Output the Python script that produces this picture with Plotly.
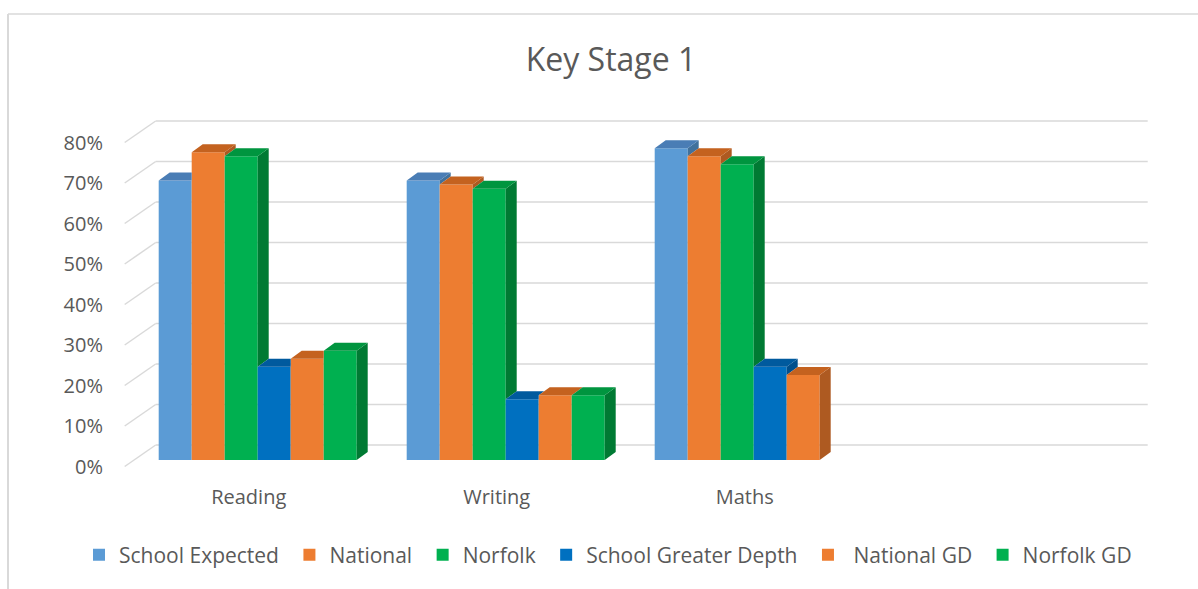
import plotly.graph_objects as go

# ---------------- data ----------------
categories = ["Reading", "Writing", "Maths", ""]
series_names = ["School Expected", "National", "Norfolk",
                "School Greater Depth", "\u00a0National GD", "Norfolk GD"]
school_expected = [69, 69, 77, None]
national = [76, 68, 75, None]
norfolk = [75, 67, 73, None]
school_greater_depth = [23, 15, 23, None]
national_gd = [25, 16, 21, None]
norfolk_gd = [27, 16, None, None]
y_tick_values = [0, 10, 20, 30, 40, 50, 60, 70, 80]
y_tick_labels = ["0%", "10%", "20%", "30%", "40%", "50%", "60%", "70%", "80%"]

series_values = [school_expected, national, norfolk,
                 school_greater_depth, national_gd, norfolk_gd]

# ---------------- styles ----------------
front_colors = ["#5B9BD5", "#ED7D31", "#00B050", "#0070C0", "#ED7D31", "#00B050"]
top_colors = ["#4A7DB5", "#C4621F", "#00953F", "#005A9E", "#C4621F", "#00953F"]
side_colors = ["#41719C", "#AE5A21", "#007A33", "#004F8C", "#AE5A21", "#007A33"]
text_color = "#595959"
grid_color = "#D9D9D9"
font_family = "Open Sans"
legend_pad = "\u00a0"   # small extra spacing after each legend entry

# ---------------- geometry (pixels -> data units) ----------------
W, H = 1198, 589
X0, SX = 133.7, 248.0       # px of x=0 on bar-front plane, px per category
Y0, SY = 460.0, 4.05        # px of 0% on bar-front plane, px per percent
L, R, T, B = 118, 1150, 112, 470   # plot area in px

x_range = [(L - X0) / SX, (R - X0) / SX]
y_range = [(Y0 - B) / SY, (Y0 - T) / SY]

bar_w = 33.0 / SX
bar_dx, bar_dy = 11.0 / SX, 8.0 / SY        # bar extrusion
front_dx, front_dy = -9.0 / SX, -6.5 / SY   # front plane relative to bar fronts
back_dx, back_dy = 22.0 / SX, 15.0 / SY     # back wall relative to bar fronts
slope = bar_dy / bar_dx
n_cat = len(categories)

fig = go.Figure()

# front faces as real bars
for k, (name, vals) in enumerate(zip(series_names, series_values)):
    xs = [i + 0.5 for i in range(n_cat)]
    fig.add_trace(go.Bar(
        x=xs, y=vals, name=name + legend_pad, width=bar_w,
        offset=-3 * bar_w + k * bar_w,
        marker=dict(color=front_colors[k], line=dict(width=0)),
        hoverinfo="skip",
    ))

# side and top faces (computed from the same values, clipped by the right neighbour)
for k, vals in enumerate(series_values):
    tx, ty, sx_, sy_ = [], [], [], []
    for i in range(n_cat):
        v = vals[i]
        if v is None:
            continue
        xl = i + 0.5 - 3 * bar_w + k * bar_w
        xr = xl + bar_w
        v2 = 0.0
        if k + 1 < len(series_values) and series_values[k + 1][i] is not None:
            v2 = series_values[k + 1][i]
        # top face
        if v2 > v:
            h = min(v2 - v, bar_dy)
            pts = [(xl, v), (xl + bar_dx, v + bar_dy),
                   (xr + (bar_dy - h) / slope, v + bar_dy), (xr, v + h), (xr, v)]
        else:
            pts = [(xl, v), (xl + bar_dx, v + bar_dy),
                   (xr + bar_dx, v + bar_dy), (xr, v)]
        for p in pts + [pts[0]]:
            tx.append(p[0]); ty.append(p[1])
        tx.append(None); ty.append(None)
        # side face
        if v > v2:
            pts = [(xr, v2), (xr + bar_dx, v2 + bar_dy),
                   (xr + bar_dx, v + bar_dy), (xr, v)]
            for p in pts + [pts[0]]:
                sx_.append(p[0]); sy_.append(p[1])
            sx_.append(None); sy_.append(None)
    fig.add_trace(go.Scatter(x=sx_, y=sy_, mode="lines", fill="toself",
                             fillcolor=side_colors[k], line=dict(width=0),
                             showlegend=False, hoverinfo="skip"))
    fig.add_trace(go.Scatter(x=tx, y=ty, mode="lines", fill="toself",
                             fillcolor=top_colors[k], line=dict(width=0),
                             showlegend=False, hoverinfo="skip"))

# back-wall gridlines and floor-to-wall diagonals
shapes = []
for v in y_tick_values:
    shapes.append(dict(type="line", xref="x", yref="y", layer="below",
                       x0=front_dx, y0=v + front_dy, x1=back_dx, y1=v + back_dy,
                       line=dict(color=grid_color, width=1.5)))
    shapes.append(dict(type="line", xref="x", yref="y", layer="below",
                       x0=back_dx, y0=v + back_dy, x1=n_cat + back_dx, y1=v + back_dy,
                       line=dict(color=grid_color, width=1.5)))

# chart frame (partially visible, as in the reference)
def px_to_paper_x(px):
    return (px - L) / (R - L)

def px_to_paper_y(py):
    return (B - py) / (B - T)

shapes.append(dict(type="line", xref="paper", yref="paper", layer="below",
                   x0=px_to_paper_x(8), y0=px_to_paper_y(14),
                   x1=px_to_paper_x(8), y1=px_to_paper_y(600),
                   line=dict(color=grid_color, width=2)))
shapes.append(dict(type="line", xref="paper", yref="paper", layer="below",
                   x0=px_to_paper_x(8), y0=px_to_paper_y(14),
                   x1=px_to_paper_x(1210), y1=px_to_paper_y(14),
                   line=dict(color=grid_color, width=1.5)))

fig.update_layout(
    width=W, height=H,
    margin=dict(l=L, r=W - R, t=T, b=H - B, pad=0),
    paper_bgcolor="white", plot_bgcolor="white",
    barmode="overlay",
    font=dict(family=font_family, color=text_color, size=20),
    title=dict(text="Key Stage 1", xref="container", yref="container",
               x=611 / W, y=1 - 60 / H, xanchor="center", yanchor="middle",
               font=dict(size=32, color=text_color, family=font_family)),
    xaxis=dict(range=x_range, showgrid=False, zeroline=False, showline=False,
               tickmode="array",
               tickvals=[i + 0.5 + front_dx for i in range(n_cat)],
               ticktext=categories, ticks="", ticklabelstandoff=13,
               tickfont=dict(size=20, color=text_color), fixedrange=True),
    yaxis=dict(range=y_range, showgrid=False, zeroline=False, showline=False,
               tickmode="array",
               tickvals=[v + front_dy for v in y_tick_values],
               ticktext=y_tick_labels, ticks="", ticklabelstandoff=14,
               tickfont=dict(size=20, color=text_color), fixedrange=True),
    legend=dict(orientation="h", x=px_to_paper_x(79), xanchor="left",
                y=px_to_paper_y(555), yanchor="middle",
                font=dict(size=21, color=text_color), itemclick=False,
                traceorder="normal", bgcolor="rgba(0,0,0,0)"),
    shapes=shapes,
    showlegend=True,
)

fig.write_html("out.html", config={"displayModeBar": False},
               post_script="document.body.style.margin='0';")
